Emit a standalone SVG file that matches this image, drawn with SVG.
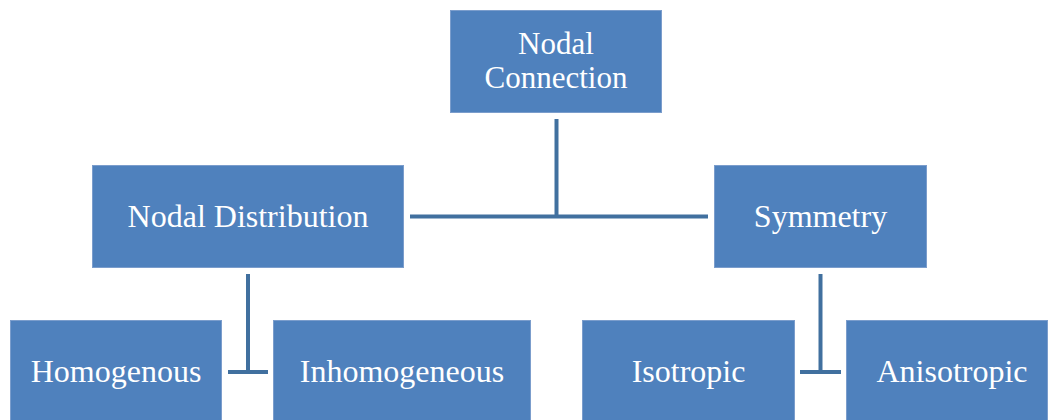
<svg xmlns="http://www.w3.org/2000/svg" width="1049" height="420" viewBox="0 0 1049 420">
  <style>
    .box { fill: #4F81BD; stroke: #7B9DCC; stroke-width: 1; }
    .lbl { fill: #FFFFFF; font-family: "Liberation Serif", "Times New Roman", "DejaVu Serif", serif; font-size: 32px; text-anchor: middle; }
    .sm { font-size: 31px; }
    .conn { stroke: #41709F; stroke-width: 4; fill: none; }
  </style>
  <rect width="1049" height="420" fill="#FFFFFF"/>
  <g id="connectors">
    <line class="conn" x1="556.5" y1="119" x2="556.5" y2="217"/>
    <line class="conn" x1="410" y1="216.5" x2="708" y2="216.5"/>
    <line class="conn" x1="248" y1="274" x2="248" y2="372"/>
    <line class="conn" x1="228" y1="372" x2="268" y2="372"/>
    <line class="conn" x1="820.5" y1="274" x2="820.5" y2="372"/>
    <line class="conn" x1="800" y1="372" x2="841" y2="372"/>
  </g>
  <g id="node-nodal-connection">
    <rect class="box" x="450.5" y="10.5" width="211" height="102"/>
    <text class="lbl sm" x="556" y="53.5">Nodal</text>
    <text class="lbl sm" x="556" y="88">Connection</text>
  </g>
  <g id="node-nodal-distribution">
    <rect class="box" x="92.5" y="165.5" width="311" height="102"/>
    <text class="lbl" x="248" y="227">Nodal Distribution</text>
  </g>
  <g id="node-symmetry">
    <rect class="box" x="714.5" y="165.5" width="212" height="102"/>
    <text class="lbl" x="820.5" y="227">Symmetry</text>
  </g>
  <g id="node-homogenous">
    <rect class="box" x="10.5" y="320.5" width="211" height="103"/>
    <text class="lbl" x="116" y="382">Homogenous</text>
  </g>
  <g id="node-inhomogeneous">
    <rect class="box" x="273.5" y="320.5" width="257" height="103"/>
    <text class="lbl" x="402" y="382">Inhomogeneous</text>
  </g>
  <g id="node-isotropic">
    <rect class="box" x="582.5" y="320.5" width="212" height="103"/>
    <text class="lbl" x="688.5" y="382">Isotropic</text>
  </g>
  <g id="node-anisotropic">
    <rect class="box" x="846.5" y="320.5" width="201" height="103"/>
    <text class="lbl" x="952" y="382">Anisotropic</text>
  </g>
</svg>
